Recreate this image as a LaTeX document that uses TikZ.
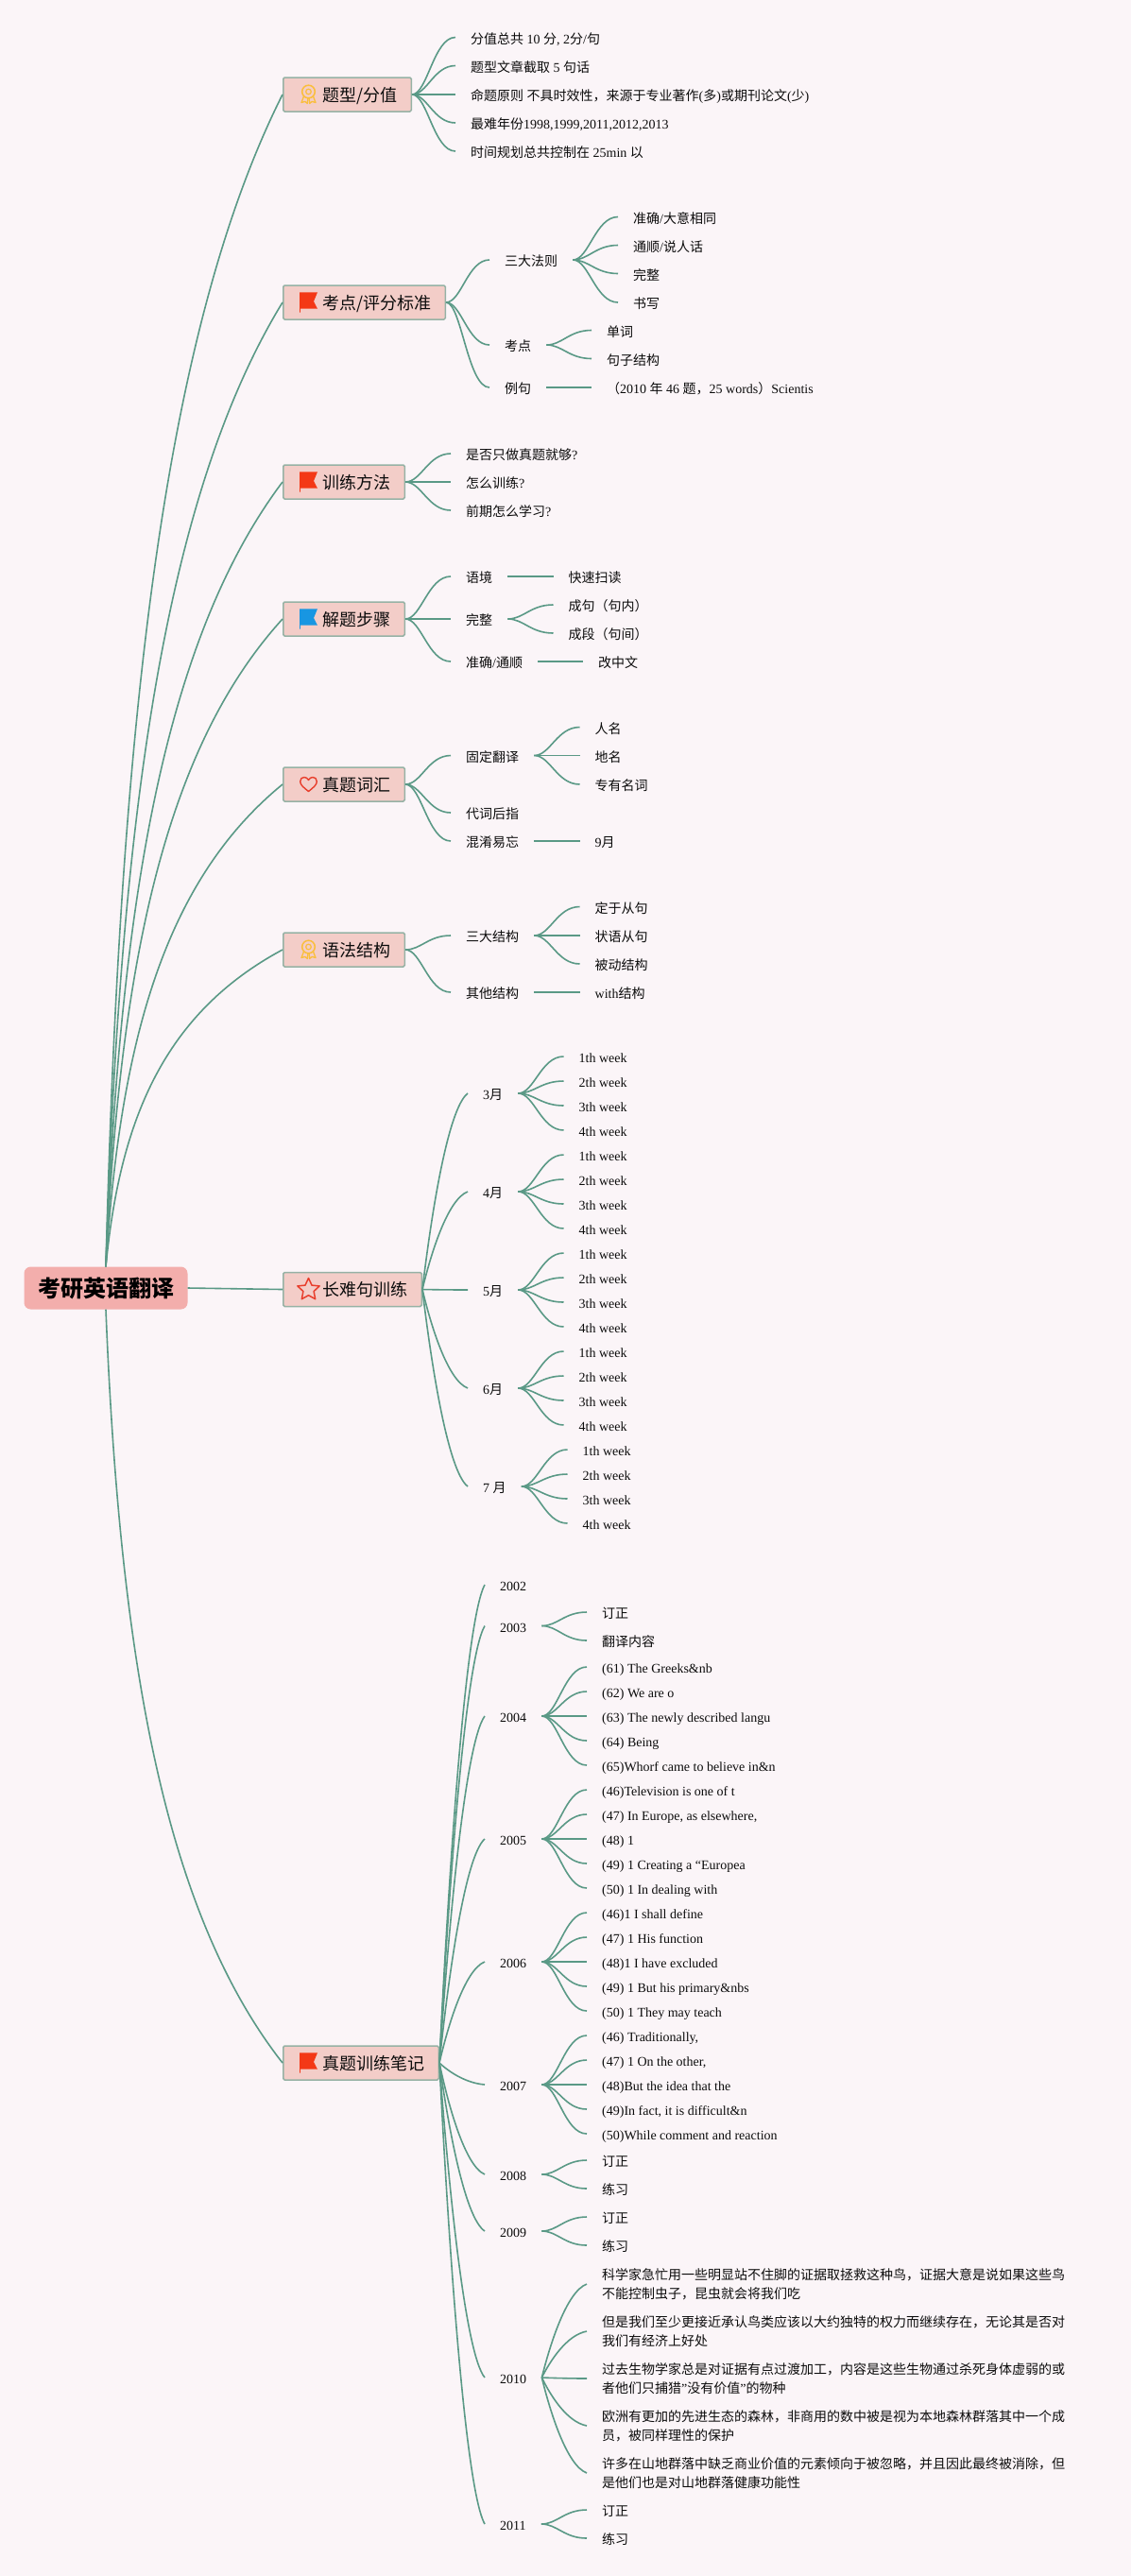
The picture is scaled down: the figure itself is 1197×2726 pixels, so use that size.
\documentclass[tikz,border=0pt]{standalone}
\usepackage{fontspec}
\usepackage{xcolor}
\usetikzlibrary{calc}
\setmainfont{Liberation Serif}
\newfontfamily\cjk{Noto Sans CJK SC}
\definecolor{pagebg}{RGB}{251, 245, 248}
\definecolor{edgegreen}{RGB}{90, 153, 134}
\definecolor{rootpink}{RGB}{243, 174, 172}
\definecolor{topicpink}{RGB}{243, 205, 200}
\definecolor{topicline}{RGB}{150, 178, 165}
\definecolor{inkdark}{RGB}{12, 12, 12}
\definecolor{flagred}{RGB}{243, 56, 22}
\definecolor{flagblue}{RGB}{24, 150, 226}
\definecolor{medalgold}{RGB}{250, 190, 60}
\definecolor{outlinered}{RGB}{232, 62, 44}

% Chinese characters switch to the CJK family by themselves
\newcount\cjkpos
\XeTeXinterchartokenstate=1
\newXeTeXintercharclass\cjkclass
\cjkpos="3000
\loop \XeTeXcharclass\cjkpos=\cjkclass \ifnum\cjkpos<"9FFF \advance\cjkpos by 1 \repeat
\cjkpos="FF00
\loop \XeTeXcharclass\cjkpos=\cjkclass \ifnum\cjkpos<"FFEF \advance\cjkpos by 1 \repeat
\XeTeXinterchartoks 0 \cjkclass = {\begingroup\cjk}
\XeTeXinterchartoks 4095 \cjkclass = {\begingroup\cjk}
\XeTeXinterchartoks \cjkclass 0 = {\endgroup}
\XeTeXinterchartoks \cjkclass 4095 = {\endgroup}

\tikzset{
    pics/flagicon/.style={code={
        \fill[#1] (-9.5,-10.7) -- (9.5,-10.7) -- (5.5,-1) -- (9.5,6.7) -- (-8.7,6.7)
            -- (-8.7,10.7) -- (-9.5,10.7) -- cycle;
    }},
    pics/medalicon/.style={code={
        \draw[medalgold, line width=1.5pt] (0,-3) circle (6.8);
        \draw[medalgold, line width=1.2pt] (0,-3) circle (2.8);
        \draw[medalgold, line width=1.3pt, line join=round] (-5,2) -- (-7.5,8.5) -- (-3.6,7.4) -- (-1.2,9.5) -- (-0.6,4.2);
        \draw[medalgold, line width=1.3pt, line join=round] (5,2) -- (7.5,8.5) -- (3.6,7.4) -- (1.2,9.5) -- (0.6,4.2);
    }},
    pics/hearticon/.style={code={
        \draw[outlinered, line width=1.4pt, line join=round] (0,7.5)
            .. controls (-5,3.5) and (-8.8,0.5) .. (-8.8,-3)
            .. controls (-8.8,-6) and (-6.8,-7.5) .. (-4.6,-7.5)
            .. controls (-2.6,-7.5) and (-1,-6.4) .. (0,-4.6)
            .. controls (1,-6.4) and (2.6,-7.5) .. (4.6,-7.5)
            .. controls (6.8,-7.5) and (8.8,-6) .. (8.8,-3)
            .. controls (8.8,0.5) and (5,3.5) .. (0,7.5) -- cycle;
    }},
    pics/staricon/.style={code={
        \draw[outlinered, line width=1.5pt, line join=round] (0,-12) -- (3.5,-4.4) -- (11.6,-3.6) -- (5.6,2)
            -- (7.2,10.2) -- (0,6.2) -- (-7.2,10.2) -- (-5.6,2) -- (-11.6,-3.6) -- (-3.5,-4.4) -- cycle;
    }}
}

\begin{document}
\begin{tikzpicture}[
    x=1pt, y=-1pt,
    rootbox/.style={rectangle, rounded corners=7pt, fill=rootpink, minimum width=173pt, minimum height=45pt,
        inner sep=0pt, text height=24pt, text depth=5pt, font=\fontsize{24}{26}\selectfont\bfseries\cjk},
    topic/.style={rectangle, rounded corners=1.5pt, draw=topicline, line width=1.5pt, fill=topicpink, anchor=west,
        minimum height=36pt, inner xsep=14.5pt, inner ysep=0pt, text=inkdark, text height=18pt, text depth=4pt,
        font=\fontsize{18}{20}\selectfont\cjk, execute at begin node={\hspace*{27.5pt}}},
    leaf/.style={anchor=west, inner xsep=16pt, inner ysep=0pt, text=inkdark, text height=16pt, text depth=3pt,
        font=\fontsize{14}{20}\selectfont},
    longleaf/.style={anchor=west, inner xsep=16pt, inner ysep=0pt, text=inkdark, align=left,
        font=\fontsize{14}{20}\selectfont},
    edge/.style={edgegreen, line width=1.6pt},
    trunk/.style={edge, to path={let \p1=(\tikztostart), \p2=(\tikztotarget) in
        .. controls ({\x1+.08*(\x2-\x1)},{\y1+.467*(\y2-\y1)}) and ({\x1+.333*(\x2-\x1)},{\y1+.8*(\y2-\y1)}) .. (\tikztotarget)}},
    bough/.style={edge, to path={let \p1=(\tikztostart), \p2=(\tikztotarget) in
        .. controls ({\x1+.18*(\x2-\x1)},{\y1+.35*(\y2-\y1)}) and ({\x1+.55*(\x2-\x1)},{\y1+.92*(\y2-\y1)}) .. (\tikztotarget)}},
    twig/.style={edge, to path={let \p1=(\tikztostart), \p2=(\tikztotarget) in
        .. controls ({\x1+.35*(\x2-\x1)},\y1) and ({\x1+.5*(\x2-\x1)},\y2) .. (\tikztotarget)}}
]

\fill[pagebg] (0,0) rectangle (1197,2726);
\useasboundingbox (0,0) rectangle (1197,2726);

% Root and topics
\node[rootbox] (root) at (112,1363) {考研英语翻译};
\node[topic] (t1) at (299,100) {题型/分值};
\node[topic] (t2) at (299,320) {考点/评分标准};
\node[topic] (t3) at (299,510) {训练方法};
\node[topic] (t4) at (299,655) {解题步骤};
\node[topic] (t5) at (299,830) {真题词汇};
\node[topic] (t6) at (299,1005) {语法结构};
\node[topic] (t7) at (299,1364.5) {长难句训练};
\node[topic] (t8) at (299,2183) {真题训练笔记};

\pic at ($(t1.west)+(27.5,0)$) {medalicon};
\pic at ($(t2.west)+(27.5,0)$) {flagicon=flagred};
\pic at ($(t3.west)+(27.5,0)$) {flagicon=flagred};
\pic at ($(t4.west)+(27.5,0)$) {flagicon=flagblue};
\pic at ($(t5.west)+(27.5,0)$) {hearticon};
\pic at ($(t6.west)+(27.5,0)$) {medalicon};
\pic at ($(t7.west)+(27.5,0)$) {staricon};
\pic at ($(t8.west)+(27.5,0)$) {flagicon=flagred};

\foreach \i in {1,...,6}
    \draw[trunk] (root.north) to (t\i.west);
\draw[edge] (root.east) -- (t7.west);
\draw[trunk] (root.south) to (t8.west);

% Question type
\node[leaf] (a1) at (482,39.5) {分值总共 10 分, 2分/句};
\node[leaf] (a2) at (482,69.5) {题型文章截取 5 句话};
\node[leaf] (a3) at (482,100) {命题原则 不具时效性，来源于专业著作(多)或期刊论文(少)};
\node[leaf] (a4) at (482,130) {最难年份1998,1999,2011,2012,2013};
\node[leaf] (a5) at (482,160) {时间规划总共控制在 25min 以};
\foreach \i in {1,...,5}
    \draw[twig] (t1.east) to (a\i.west);

% Scoring
\node[leaf] (b1) at (518,275) {三大法则};
\node[leaf] (b2) at (518,365) {考点};
\node[leaf] (b3) at (518,410) {例句};
\node[leaf] (b11) at (654,229.5) {准确/大意相同};
\node[leaf] (b12) at (654,259.5) {通顺/说人话};
\node[leaf] (b13) at (654,289.5) {完整};
\node[leaf] (b14) at (654,320) {书写};
\node[leaf] (b21) at (626,349.5) {单词};
\node[leaf] (b22) at (626,379.5) {句子结构};
\node[leaf] (b31) at (626,410) {（2010 年 46 题，25 words）Scientis};
\foreach \i in {1,2,3}
    \draw[twig] (t2.east) to (b\i.west);
\foreach \i in {1,...,4}
    \draw[twig] (b1.east) to (b1\i.west);
\foreach \i in {1,2}
    \draw[twig] (b2.east) to (b2\i.west);
\draw[edge] (b3.east) -- (b31.west);

% Training
\node[leaf] (c1) at (477,480) {是否只做真题就够?};
\node[leaf] (c2) at (477,510) {怎么训练?};
\node[leaf] (c3) at (477,540) {前期怎么学习?};
\foreach \i in {1,2,3}
    \draw[twig] (t3.east) to (c\i.west);

% Steps
\node[leaf] (d1) at (477,610) {语境};
\node[leaf] (d2) at (477,655) {完整};
\node[leaf] (d3) at (477,700) {准确/通顺};
\node[leaf] (d11) at (585.5,610) {快速扫读};
\node[leaf] (d21) at (585.5,640) {成句（句内）};
\node[leaf] (d22) at (585.5,670) {成段（句间）};
\node[leaf] (d31) at (617,700) {改中文};
\foreach \i in {1,2,3}
    \draw[twig] (t4.east) to (d\i.west);
\draw[edge] (d1.east) -- (d11.west);
\draw[twig] (d2.east) to (d21.west);
\draw[twig] (d2.east) to (d22.west);
\draw[edge] (d3.east) -- (d31.west);

% Vocabulary
\node[leaf] (e1) at (477,799.5) {固定翻译};
\node[leaf] (e2) at (477,860) {代词后指};
\node[leaf] (e3) at (477,890) {混淆易忘};
\node[leaf] (e11) at (613.5,769.5) {人名};
\node[leaf] (e12) at (613.5,799.5) {地名};
\node[leaf] (e13) at (613.5,830) {专有名词};
\node[leaf] (e31) at (613.5,890) {9月};
\foreach \i in {1,2,3}
    \draw[twig] (t5.east) to (e\i.west);
\foreach \i in {1,2,3}
    \draw[twig] (e1.east) to (e1\i.west);
\draw[edge] (e3.east) -- (e31.west);

% Grammar
\node[leaf] (f1) at (477,990) {三大结构};
\node[leaf] (f2) at (477,1050) {其他结构};
\node[leaf] (f11) at (613.5,959.5) {定于从句};
\node[leaf] (f12) at (613.5,990) {状语从句};
\node[leaf] (f13) at (613.5,1020) {被动结构};
\node[leaf] (f21) at (613.5,1050) {with结构};
\draw[twig] (t6.east) to (f1.west);
\draw[twig] (t6.east) to (f2.west);
\foreach \i in {1,2,3}
    \draw[twig] (f1.east) to (f1\i.west);
\draw[edge] (f2.east) -- (f21.west);

% Long sentences
\node[leaf] (g3) at (495,1157) {3月};
\node[leaf] (g4) at (495,1261) {4月};
\node[leaf] (g5) at (495,1365) {5月};
\node[leaf] (g6) at (495,1469) {6月};
\node[leaf] (g7) at (495,1573) {7 月};
\foreach \m/\my/\wx in {3/1157/596.5, 4/1261/596.5, 5/1365/596.5, 6/1469/596.5, 7/1573/600.5} {
    \draw[bough] (t7.east) to (g\m.west);
    \foreach \w/\wy in {1/-39, 2/-13, 3/13, 4/39} {
        \node[leaf] (g\m\w) at (\wx,{\my+\wy}) {\w th week};
        \draw[twig] (g\m.east) to (g\m\w.west);
    }
}

% Past papers
\node[leaf] (y2) at (513,1677) {2002};
\node[leaf] (y3) at (513,1720.5) {2003};
\node[leaf] (y4) at (513,1816) {2004};
\node[leaf] (y5) at (513,1946) {2005};
\node[leaf] (y6) at (513,2076) {2006};
\node[leaf] (y7) at (513,2206) {2007};
\node[leaf] (y8) at (513,2301) {2008};
\node[leaf] (y9) at (513,2361) {2009};
\node[leaf] (y10) at (513,2516) {2010};
\node[leaf] (y11) at (513,2671) {2011};
\foreach \i in {2,...,11}
    \draw[bough] (t8.east) to (y\i.west);

\node[leaf] (y31) at (621,1706) {订正};
\node[leaf] (y32) at (621,1736) {翻译内容};
\node[leaf] (y41) at (621,1764) {(61) The Greeks\&nb};
\node[leaf] (y42) at (621,1790) {(62) We are o};
\node[leaf] (y43) at (621,1816) {(63) The newly described langu};
\node[leaf] (y44) at (621,1842) {(64) Being};
\node[leaf] (y45) at (621,1868) {(65)Whorf came to believe in\&n};
\node[leaf] (y51) at (621,1894) {(46)Television is one of t};
\node[leaf] (y52) at (621,1920) {(47) In Europe, as elsewhere,};
\node[leaf] (y53) at (621,1946) {(48) 1};
\node[leaf] (y54) at (621,1972) {(49) 1 Creating a “Europea};
\node[leaf] (y55) at (621,1998) {(50) 1 In dealing with};
\node[leaf] (y61) at (621,2024) {(46)1 I shall define};
\node[leaf] (y62) at (621,2050) {(47) 1 His function};
\node[leaf] (y63) at (621,2076) {(48)1 I have excluded};
\node[leaf] (y64) at (621,2102) {(49) 1 But his primary\&nbs};
\node[leaf] (y65) at (621,2128) {(50) 1 They may teach};
\node[leaf] (y71) at (621,2154) {(46) Traditionally,};
\node[leaf] (y72) at (621,2180) {(47) 1 On the other,};
\node[leaf] (y73) at (621,2206) {(48)But the idea that the};
\node[leaf] (y74) at (621,2232) {(49)In fact, it is difficult\&n};
\node[leaf] (y75) at (621,2258) {(50)While comment and reaction};
\node[leaf] (y81) at (621,2286) {订正};
\node[leaf] (y82) at (621,2316) {练习};
\node[leaf] (y91) at (621,2346) {订正};
\node[leaf] (y92) at (621,2376) {练习};
\node[longleaf] (y101) at (621,2417) {科学家急忙用一些明显站不住脚的证据取拯救这种鸟，证据大意是说如果这些鸟\\不能控制虫子，昆虫就会将我们吃};
\node[longleaf] (y102) at (621,2467) {但是我们至少更接近承认鸟类应该以大约独特的权力而继续存在，无论其是否对\\我们有经济上好处};
\node[longleaf] (y103) at (621,2517) {过去生物学家总是对证据有点过渡加工，内容是这些生物通过杀死身体虚弱的或\\者他们只捕猎"没有价值"的物种};
\node[longleaf] (y104) at (621,2567) {欧洲有更加的先进生态的森林，非商用的数中被是视为本地森林群落其中一个成\\员，被同样理性的保护};
\node[longleaf] (y105) at (621,2617) {许多在山地群落中缺乏商业价值的元素倾向于被忽略，并且因此最终被消除，但\\是他们也是对山地群落健康功能性};
\node[leaf] (y111) at (621,2656) {订正};
\node[leaf] (y112) at (621,2686) {练习};

\foreach \i in {1,2}
    \draw[twig] (y3.east) to (y3\i.west);
\foreach \i in {1,...,5}
    \draw[twig] (y4.east) to (y4\i.west);
\foreach \i in {1,...,5}
    \draw[twig] (y5.east) to (y5\i.west);
\foreach \i in {1,...,5}
    \draw[twig] (y6.east) to (y6\i.west);
\foreach \i in {1,...,5}
    \draw[twig] (y7.east) to (y7\i.west);
\foreach \i in {1,2}
    \draw[twig] (y8.east) to (y8\i.west);
\foreach \i in {1,2}
    \draw[twig] (y9.east) to (y9\i.west);
\foreach \i in {1,...,5}
    \draw[bough] (y10.east) to (y10\i.west);
\foreach \i in {1,2}
    \draw[twig] (y11.east) to (y11\i.west);

\end{tikzpicture}
\end{document}
